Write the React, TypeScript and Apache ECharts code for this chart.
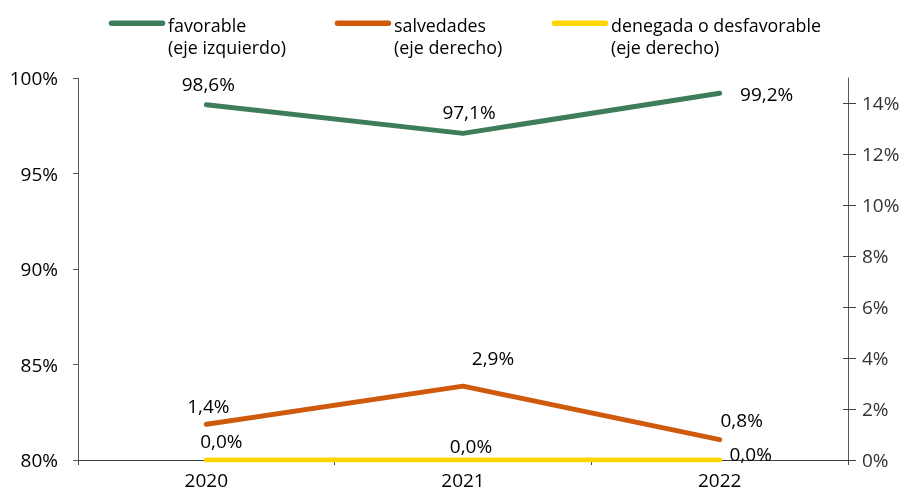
import React, { useEffect, useRef } from "react";
import * as echarts from "echarts";

const categories = ["2020", "2021", "2022"];
const favorable = [98.6, 97.1, 99.2];
const salvedades = [1.4, 2.9, 0.8];
const denegada = [0.0, 0.0, 0.0];
const seriesNames = ["favorable", "salvedades", "denegada o desfavorable"];
const seriesSubtitles = ["(eje izquierdo)", "(eje derecho)", "(eje derecho)"];
const rightTicks = [0, 2, 4, 6, 8, 10, 12, 14];

// label offsets (style, relative to each point)
const favOffsets = [[2, -21], [6, -21], [47, 1]];
const salOffsets = [[2, -18], [30, -28], [22, -20]];
const denOffsets = [[15, -19], [8, -14], [31, -6]];

const colors = ["#3E7D5A", "#D05A0B", "#FFD600"];
const legendIconLeft = [109, 335, 552];
const legendIconWidth = 56;
const legendTextLeft = [168, 394, 611];
const FONT = "'Open Sans', 'Noto Sans', sans-serif";

const fmt = (v: number) => v.toFixed(1).replace(".", ",") + "%";

export default function App() {
  const ref = useRef<HTMLDivElement>(null);
  useEffect(() => {
    document.body.style.margin = "0";
    const chart = echarts.init(ref.current!, undefined, { renderer: "svg" });
    const mkData = (vals: number[], offs: number[][]) =>
      vals.map((v, i) => ({
        value: v,
        label: { offset: offs[i] },
      }));
    const labelBase = {
      show: true,
      position: "inside",
      color: "#000",
      fontSize: 19,
      fontFamily: FONT,
      formatter: (p: any) => fmt(p.value),
    };
    const series = [favorable, salvedades, denegada].map((vals, k) => ({
      name: seriesNames[k],
      type: "line",
      yAxisIndex: k === 0 ? 0 : 1,
      data: mkData(vals, [favOffsets, salOffsets, denOffsets][k]),
      symbol: "circle",
      symbolSize: 0,
      showSymbol: true,
      lineStyle: { width: 5, color: colors[k], cap: "round", join: "round" },
      itemStyle: { color: colors[k] },
      label: labelBase,
      z: 3 + k,
    }));
    const legendGraphics: any[] = [];
    seriesNames.forEach((n, i) => {
      legendGraphics.push({
        type: "line",
        shape: {
          x1: legendIconLeft[i] + 2.5,
          y1: 23.3,
          x2: legendIconLeft[i] + legendIconWidth - 2.5,
          y2: 23.3,
        },
        style: { stroke: colors[i], lineWidth: 5.5, lineCap: "round" },
      });
      legendGraphics.push({
        type: "text",
        x: legendTextLeft[i],
        y: 24.7,
        scaleX: 0.94,
        style: { text: n, fontFamily: FONT, fontSize: 19, fill: "#000", align: "left", verticalAlign: "middle" },
      });
      legendGraphics.push({
        type: "text",
        x: legendTextLeft[i],
        y: 46.7,
        scaleX: 0.94,
        style: { text: seriesSubtitles[i], fontFamily: FONT, fontSize: 19, fill: "#000", align: "left", verticalAlign: "middle" },
      });
    });
    chart.setOption({
      animation: false,
      grid: { left: 78, right: 62, top: 78, bottom: 35 },
      graphic: legendGraphics,
      xAxis: {
        type: "category",
        data: categories,
        boundaryGap: true,
        axisLine: { lineStyle: { color: "#404040", width: 1 } },
        axisTick: { show: true, length: 5, alignWithLabel: false, lineStyle: { color: "#404040" } },
        axisLabel: { color: "#000", fontSize: 19, fontFamily: FONT, margin: 10 },
      },
      yAxis: [
        {
          type: "value",
          min: 80,
          max: 100,
          interval: 5,
          position: "left",
          splitLine: { show: false },
          axisLine: { show: true, lineStyle: { color: "#595959" } },
          axisTick: { show: true, length: 5, lineStyle: { color: "#595959" } },
          axisLabel: { color: "#000", fontSize: 19, fontFamily: FONT, margin: 20, formatter: "{value}%" },
        },
        {
          type: "value",
          min: 0,
          max: 15,
          interval: 2,
          position: "right",
          splitLine: { show: false },
          axisLine: { show: true, lineStyle: { color: "#595959" } },
          axisTick: { show: true, length: 8, customValues: rightTicks, lineStyle: { color: "#404040" } },
          axisLabel: {
            color: "#333",
            fontSize: 19,
            fontFamily: FONT,
            margin: 14,
            customValues: rightTicks,
            formatter: "{value}%",
          },
        },
        {
          type: "value",
          min: 0,
          max: 15,
          interval: 2,
          position: "right",
          splitLine: { show: false },
          axisLine: { show: false },
          axisTick: { show: true, inside: true, length: 5, customValues: rightTicks, lineStyle: { color: "#404040" } },
          axisLabel: { show: false },
        },
      ],
      series,
    });
    return () => chart.dispose();
  }, []);
  return <div ref={ref} style={{ position: "fixed", left: 0, top: 0, width: 910, height: 495 }} />;
}
